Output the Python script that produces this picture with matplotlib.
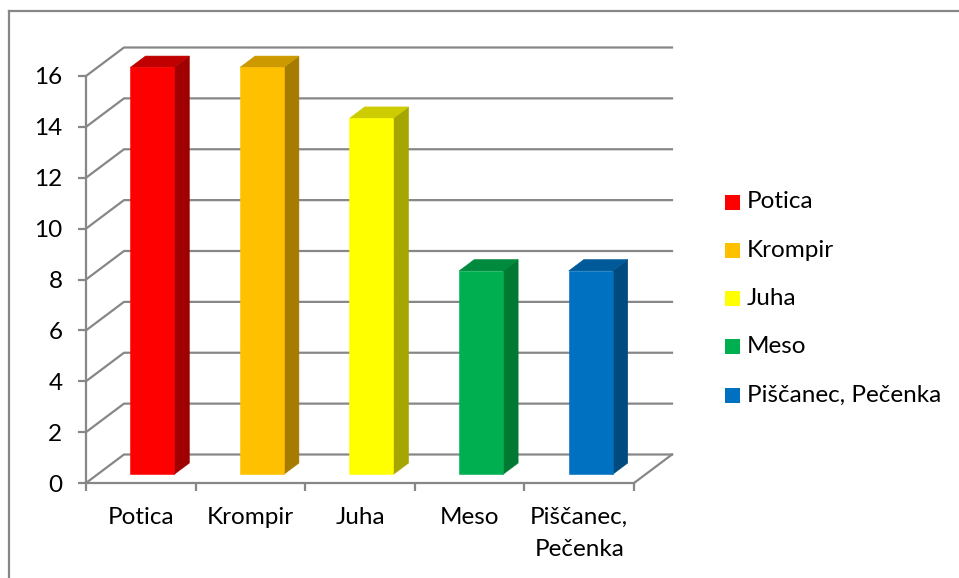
import matplotlib
matplotlib.use("Agg")
import matplotlib.pyplot as plt
from matplotlib.patches import Polygon, Rectangle
from matplotlib.lines import Line2D

# Data
categories = ["Potica", "Krompir", "Juha", "Meso", "Piščanec, Pečenka"]
tick_labels = ["Potica", "Krompir", "Juha", "Meso", "Piščanec,\nPečenka"]
values = [16, 16, 14, 8, 8]
y_ticks = [0, 2, 4, 6, 8, 10, 12, 14, 16]

# Face colours: front, side, top
front_colors = ["#FF0000", "#FFC000", "#FFFF00", "#00B050", "#0070C0"]
side_colors = ["#A00000", "#A67C00", "#A6A600", "#007A33", "#004A80"]
top_colors = ["#C00000", "#CC9A00", "#CCCC00", "#008A3E", "#005A9A"]

W, H = 959, 578
GRID = "#878787"
FONT = "Lato"
FS = 17.5

fig = plt.figure(figsize=(W / 100, H / 100), dpi=100)
fig.patch.set_facecolor("white")

def fx(px):
    return px / W

def fy(py):
    return 1 - py / H

# Front plane of the pseudo-3D box
left, right, bottom, top = 86, 634, 483, 76
ax = fig.add_axes([fx(left), fy(bottom), fx(right) - fx(left), fy(top) - fy(bottom)])
ax.set_xlim(0, 5)
ax.set_ylim(0, 16)
ax.set_facecolor("none")

# Depth vector (full depth of the box) in data units
DX = 38 / ((right - left) / 5)
DY = 28.5 / ((bottom - top) / 16)

def P(x, y, d):
    return (x + d * DX, y + d * DY)

n = len(values)
# Side wall diagonals and back wall gridlines
for v in y_ticks:
    xs = [0, DX, n + DX]
    ys = [v, v + DY, v + DY]
    ax.add_line(Line2D(xs, ys, color=GRID, lw=1.6, clip_on=False, zorder=1))
# Floor edge on the right
ax.add_line(Line2D([n, n + DX], [0, DY], color=GRID, lw=1.6, clip_on=False, zorder=1))

# Bars as prisms
d0, d1 = 0.3, 0.7
for i, v in enumerate(values):
    x0, x1 = i + 0.3, i + 0.7
    front = [P(x0, 0, d0), P(x1, 0, d0), P(x1, v, d0), P(x0, v, d0)]
    side = [P(x1, 0, d0), P(x1, 0, d1), P(x1, v, d1), P(x1, v, d0)]
    topf = [P(x0, v, d0), P(x1, v, d0), P(x1, v, d1), P(x0, v, d1)]
    for poly, col in ((side, side_colors[i]), (topf, top_colors[i]), (front, front_colors[i])):
        ax.add_patch(Polygon(poly, closed=True, facecolor=col, edgecolor=col,
                             lw=0.4, clip_on=False, zorder=3))

# Axes, ticks and labels
for s in ("top", "right"):
    ax.spines[s].set_visible(False)
for s in ("left", "bottom"):
    ax.spines[s].set_color(GRID)
    ax.spines[s].set_linewidth(1.6)
    ax.spines[s].set_zorder(2)

ax.set_yticks(y_ticks)
ax.set_yticklabels([str(t) for t in y_ticks], fontsize=FS, family=FONT)
ax.tick_params(axis="y", direction="out", length=6, width=1.6, color=GRID, pad=11)

ax.set_xticks([i + 0.5 for i in range(n)])
ax.set_xticklabels(tick_labels, fontsize=FS, family=FONT, linespacing=1.65)
ax.tick_params(axis="x", which="major", length=0, pad=17)
ax.set_xticks(list(range(n + 1)), minor=True)
ax.tick_params(axis="x", which="minor", direction="out", length=6, width=1.6, color=GRID)

# Legend
leg_y0, leg_dy = 202, 48.3
for i, (name, col) in enumerate(zip(categories, front_colors)):
    cy = leg_y0 + i * leg_dy
    fig.patches.append(Rectangle((fx(725), fy(cy + 7.5)), 15 / W, 15 / H,
                                 transform=fig.transFigure, facecolor=col, edgecolor="none"))
    fig.text(fx(747), fy(cy), name, fontsize=FS, family=FONT, va="center", ha="left")

# Chart frame
fig.add_artist(Line2D([fx(9), fx(9)], [fy(11), 0], color=GRID, lw=1.6, transform=fig.transFigure))
fig.add_artist(Line2D([fx(9), 1], [fy(11), fy(11)], color=GRID, lw=1.6, transform=fig.transFigure))

fig.savefig("out.png", dpi=100)
